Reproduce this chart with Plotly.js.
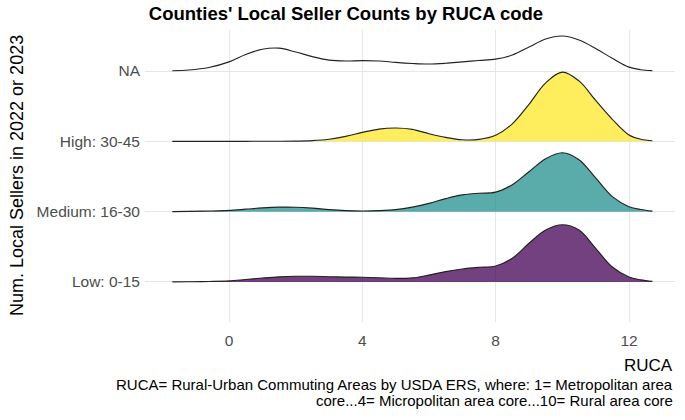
<!DOCTYPE html>
<html>
<head>
<meta charset="utf-8">
<script src="https://cdn.plot.ly/plotly-3.0.1.min.js"></script>
<style>html,body{margin:0;padding:0;background:#fff;}#chart{width:685px;height:420px;}</style>
</head>
<body>
<div id="chart"></div>
<script>
// RUCA grid (x values) at which ridge heights were read
var ruca = [-1.7, -1.2, -0.6, 0, 0.5, 1, 1.5, 2, 2.5, 3, 3.5, 4, 4.5, 5, 5.5, 6, 6.5, 7, 7.5, 8, 8.5, 9, 9.5, 10, 10.5, 11, 11.5, 12, 12.35, 12.7];

// Ridge heights (scaled density, 1 = spacing between ridges)
var densLow    = [0.001, 0.003, 0.007, 0.015, 0.035, 0.056, 0.073, 0.081, 0.081, 0.075, 0.070, 0.067, 0.060, 0.051, 0.058, 0.098, 0.148, 0.185, 0.209, 0.227, 0.337, 0.550, 0.739, 0.814, 0.739, 0.479, 0.213, 0.071, 0.030, 0.008];
var densMedium = [0.001, 0.004, 0.009, 0.018, 0.035, 0.053, 0.064, 0.063, 0.050, 0.029, 0.015, 0.010, 0.014, 0.028, 0.064, 0.118, 0.185, 0.238, 0.262, 0.277, 0.384, 0.568, 0.753, 0.838, 0.739, 0.479, 0.213, 0.071, 0.030, 0.008];
var densHigh   = [0.000, 0.000, 0.000, 0.000, 0.000, 0.001, 0.001, 0.003, 0.010, 0.030, 0.071, 0.127, 0.174, 0.189, 0.170, 0.108, 0.056, 0.022, 0.027, 0.085, 0.249, 0.526, 0.831, 0.984, 0.859, 0.582, 0.313, 0.090, 0.030, 0.008];
var densNA     = [0.004, 0.014, 0.050, 0.130, 0.235, 0.310, 0.325, 0.270, 0.205, 0.155, 0.142, 0.148, 0.142, 0.122, 0.107, 0.099, 0.110, 0.130, 0.149, 0.168, 0.227, 0.341, 0.455, 0.497, 0.440, 0.320, 0.180, 0.055, 0.018, 0.005];

var groups = ["Low: 0-15", "Medium: 16-30", "High: 30-45", "NA"];
var groupDens = [densLow, densMedium, densHigh, densNA];
var groupFill = ["rgba(68,1,84,0.75)", "rgba(33,144,140,0.75)", "rgba(253,231,37,0.75)", null];

var xTicks = [0, 4, 8, 12];

var traces = [];
// draw top ridge first so lower ridges overlay it
for (var g = groups.length - 1; g >= 0; g--) {
  var base = g + 1;
  var baseY = ruca.map(function(){ return base; });
  var topY = groupDens[g].map(function(d){ return base + d; });
  traces.push({
    x: ruca, y: baseY, type: 'scatter', mode: 'lines',
    line: {width: 0, shape: 'spline'}, hoverinfo: 'skip', showlegend: false
  });
  var t = {
    x: ruca, y: topY, type: 'scatter', mode: 'lines', name: groups[g],
    line: {color: '#222222', width: 1.15, shape: 'spline', smoothing: 1},
    showlegend: false
  };
  if (groupFill[g]) { t.fill = 'tonexty'; t.fillcolor = groupFill[g]; }
  traces.push(t);
}

var font = "Liberation Sans, Arial, Helvetica, sans-serif";
var layout = {
  width: 685, height: 420,
  margin: {l: 145, r: 10, t: 30, b: 98},
  paper_bgcolor: '#fff', plot_bgcolor: '#fff',
  font: {family: font, color: '#000'},
  title: {
    text: "<b>Counties' Local Seller Counts by RUCA code</b>",
    font: {family: font, size: 18.5, color: '#000'},
    x: 346 / 685, xref: 'container', xanchor: 'center',
    y: 1 - 14 / 420, yref: 'container', yanchor: 'middle'
  },
  xaxis: {
    range: [-2.52, 13.38],
    tickvals: xTicks, ticktext: xTicks.map(String),
    showgrid: true, gridcolor: '#e6e6e6', gridwidth: 1,
    zeroline: false, showline: false, ticks: '',
    tickfont: {family: font, size: 15.5, color: '#4d4d4d'},
    ticklabelstandoff: 7, fixedrange: true
  },
  yaxis: {
    range: [0.431, 4.583],
    tickvals: [1, 2, 3, 4], ticktext: groups,
    showgrid: true, gridcolor: '#e6e6e6', gridwidth: 1,
    zeroline: false, showline: false, ticks: '',
    tickfont: {family: font, size: 15.5, color: '#4d4d4d'},
    ticklabelstandoff: 4, fixedrange: true
  },
  annotations: [
    {text: 'Num. Local Sellers in 2022 or 2023', xref: 'paper', yref: 'paper',
     x: (17 - 145) / 530, y: 0.5, xanchor: 'center', yanchor: 'middle', textangle: -90,
     showarrow: false, font: {family: font, size: 18, color: '#000'}},
    {text: 'RUCA', xref: 'paper', yref: 'paper', x: 1, y: (322 - 365) / 292,
     xanchor: 'right', yanchor: 'middle', showarrow: false,
     font: {family: font, size: 17, color: '#000'}},
    {text: 'RUCA= Rural-Urban Commuting Areas by USDA ERS, where: 1= Metropolitan area', xref: 'paper', yref: 'paper',
     x: 1, y: (322 - 384.5) / 292, xanchor: 'right', yanchor: 'middle', showarrow: false,
     font: {family: font, size: 15, color: '#000'}},
    {text: 'core...4= Micropolitan area core...10= Rural area core', xref: 'paper', yref: 'paper',
     x: 1, y: (322 - 400.5) / 292, xanchor: 'right', yanchor: 'middle', showarrow: false,
     font: {family: font, size: 15, color: '#000'}}
  ]
};

Plotly.newPlot('chart', traces, layout, {displayModeBar: false, staticPlot: true});
</script>
</body>
</html>
